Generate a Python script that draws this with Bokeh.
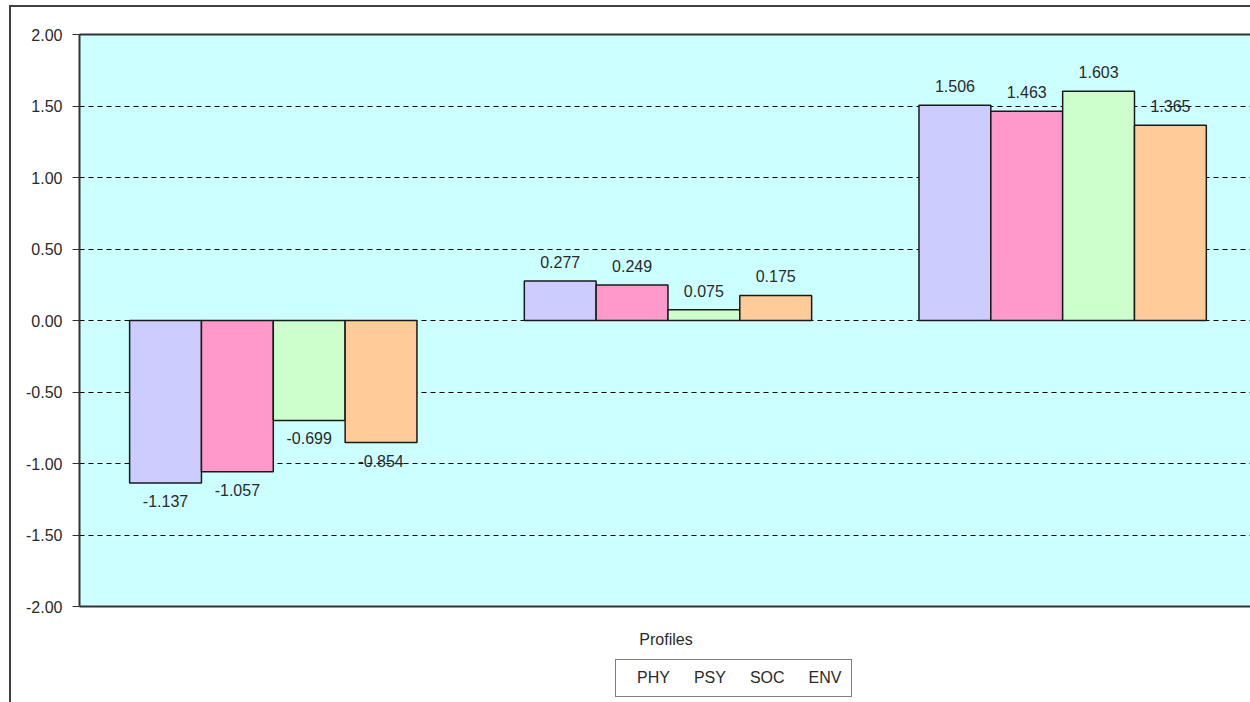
from bokeh.plotting import figure
from bokeh.layouts import column
from bokeh.models import (ColumnDataSource, Range1d, LinearAxis, NumeralTickFormatter,
                          FixedTicker, Legend, LegendItem)
from bokeh.transform import dodge
from bokeh.core.properties import value
from bokeh.embed import file_html
from bokeh.resources import INLINE

# ---- data ----
profiles = ["1", "2", "3"]
series = ["PHY", "PSY", "SOC", "ENV"]
phy = [-1.137, 0.277, 1.506]
psy = [-1.057, 0.249, 1.463]
soc = [-0.699, 0.075, 1.603]
env = [-0.854, 0.175, 1.365]
y_ticks = [-2.0, -1.5, -1.0, -0.5, 0.0, 0.5, 1.0, 1.5, 2.0]
x_title = "Profiles"

colors = ["#CCCCFF", "#FF99CC", "#CCFFCC", "#FFCC99"]
FONT = "Liberation Sans"
TXT = "#2a2a2a"
FS = "16px"
BORDER = "2px solid #404040"

values = {"PHY": phy, "PSY": psy, "SOC": soc, "ENV": env}
centers = [i + 0.5 for i in range(len(profiles))]
bar_w = 0.182

# ---- main chart ----
p = figure(frame_width=1171, frame_height=570, margin=(5, 0, 0, 9),
           x_range=Range1d(0.009, 2.981), y_range=Range1d(-2.0, 2.0),
           output_backend="svg", toolbar_location=None,
           min_border_left=68, min_border_right=0, min_border_top=27, min_border_bottom=46)
p.styles = {"border-left": BORDER, "border-top": BORDER}

p.background_fill_color = "#CCFFFF"
p.border_fill_color = "white"
p.outline_line_color = None

p.xgrid.visible = False
p.ygrid.ticker = FixedTicker(ticks=y_ticks)
p.ygrid.grid_line_color = "black"
p.ygrid.grid_line_dash = "5 4"
p.ygrid.grid_line_width = 1

for j, s in enumerate(series):
    off = (j - 1.5) * bar_w
    src = ColumnDataSource(dict(
        x=centers, top=values[s],
        label=["%.3f" % v for v in values[s]],
        yoff=[-19 if v >= 0 else 18 for v in values[s]],
    ))
    p.vbar(x=dodge("x", off), top="top", bottom=0, width=bar_w, source=src,
           fill_color=colors[j], line_color="#1a1a1a", line_width=1.5)
    p.text(x=dodge("x", off), y="top", text="label", y_offset="yoff", source=src,
           text_align="center", text_baseline="middle",
           text_font=value(FONT), text_font_size=FS, text_color=TXT)

# y axis
ya = p.yaxis[0]
ya.ticker = FixedTicker(ticks=y_ticks)
ya.formatter = NumeralTickFormatter(format="0.00")
ya.major_tick_out = 7
ya.major_tick_in = 0
ya.minor_tick_line_color = None
ya.axis_line_color = "#333333"
ya.axis_line_width = 2
ya.major_tick_line_color = "#333333"
ya.major_label_text_font = FONT
ya.major_label_text_font_size = FS
ya.major_label_text_color = TXT
ya.major_label_standoff = 10

# x axis
xa = p.xaxis[0]
xa.ticker = FixedTicker(ticks=[])
xa.major_tick_line_color = None
xa.minor_tick_line_color = None
xa.major_label_text_font_size = "0px"
xa.axis_line_color = "#333333"
xa.axis_line_width = 2
xa.axis_label = x_title
xa.axis_label_text_font = FONT
xa.axis_label_text_font_style = "normal"
xa.axis_label_text_font_size = FS
xa.axis_label_text_color = TXT
xa.axis_label_standoff = 24

# top frame line
top_ax = LinearAxis(ticker=FixedTicker(ticks=[]), major_tick_line_color=None,
                    minor_tick_line_color=None, major_label_text_font_size="0px",
                    axis_line_color="#333333", axis_line_width=2)
p.add_layout(top_ax, "above")

# ---- legend strip ----
q = figure(width=1239, height=52, margin=(0, 0, 0, 9),
           x_range=Range1d(0, 1), y_range=Range1d(0, 1),
           x_axis_location=None, y_axis_location=None,
           output_backend="svg", toolbar_location=None,
           min_border_left=0, min_border_right=0, min_border_top=0, min_border_bottom=0)
q.styles = {"border-left": BORDER}
q.grid.visible = False
q.outline_line_color = None
q.background_fill_color = "white"
q.border_fill_color = "white"

items = []
for j, s in enumerate(series):
    r = q.vbar(x=[], top=[], width=0.1, fill_color=colors[j],
               line_color="#1a1a1a", line_width=1.5)
    items.append(LegendItem(label=s, renderers=[r]))

legend = Legend(items=items, orientation="horizontal", location=(536, 5),
                glyph_width=8, glyph_height=8, label_text_font=FONT,
                label_text_font_size=FS, label_text_color=TXT,
                label_standoff=4, spacing=12, padding=9, margin=0,
                border_line_color="black", border_line_width=1.5,
                label_height=17, background_fill_color="white")
q.add_layout(legend, "center")

layout = column(p, q, spacing=0)
open("out.html", "w").write(file_html(layout, INLINE))
